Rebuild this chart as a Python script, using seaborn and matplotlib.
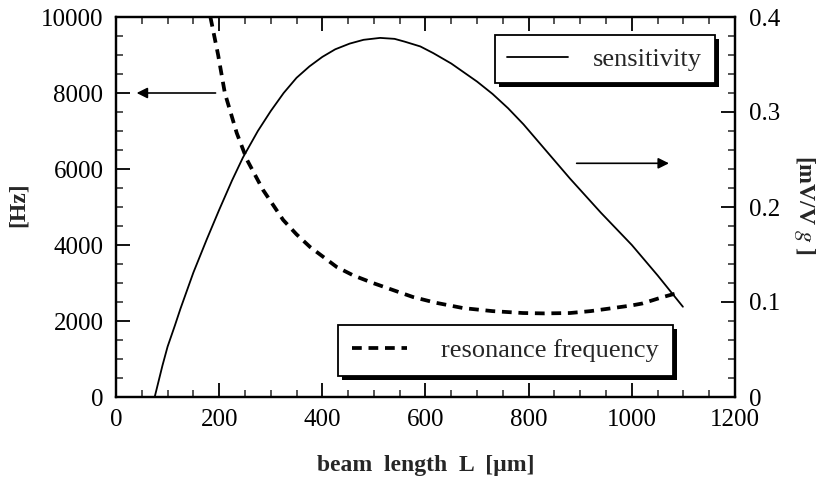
import matplotlib
matplotlib.use("Agg")
import matplotlib.pyplot as plt
import pandas as pd
import seaborn as sns
from matplotlib.ticker import MultipleLocator, FuncFormatter
from matplotlib.patches import Rectangle
from matplotlib.transforms import IdentityTransform

# Beam length [µm] vs. sensitivity [mV/V g]
length_sens = [75, 90, 100, 114, 125, 150, 176, 200, 225, 246, 275, 300, 325,
               350, 375, 400, 425, 453, 480, 512, 540, 560, 590, 615, 650, 700,
               730, 760, 790, 820, 850, 880, 940, 1000, 1050, 1099]
sensitivity = [0.0, 0.033, 0.053, 0.075, 0.093, 0.131, 0.166, 0.197, 0.228,
               0.252, 0.280, 0.301, 0.320, 0.336, 0.348, 0.358, 0.366, 0.372,
               0.376, 0.378, 0.377, 0.374, 0.369, 0.362, 0.351, 0.332, 0.319,
               0.304, 0.287, 0.268, 0.249, 0.230, 0.194, 0.160, 0.128, 0.095]

# Beam length [µm] vs. resonance frequency [Hz]
length_freq = [183, 198, 211, 234, 254, 285, 324, 350, 376, 428, 460, 498, 540,
               576, 620, 673, 730, 789, 830, 880, 920, 963, 1000, 1020, 1060,
               1095]
res_freq = [10000, 9000, 8000, 6950, 6240, 5450, 4660, 4280, 3950, 3420, 3200,
            3000, 2800, 2630, 2480, 2340, 2260, 2210, 2200, 2210, 2260, 2340,
            2410, 2460, 2630, 2760]

x_ticks = [0, 200, 400, 600, 800, 1000, 1200]
hz_ticks = [0, 2000, 4000, 6000, 8000, 10000]
sens_ticks = [0, 0.1, 0.2, 0.3, 0.4]

sns.set_theme(style="ticks")
plt.rcParams["font.family"] = ["Liberation Serif", "DejaVu Serif"]
plt.rcParams["mathtext.fontset"] = "stix"

W, H = 829, 483
fig = plt.figure(figsize=(W / 100, H / 100), dpi=100)
ax = fig.add_axes([116 / W, 1 - 397 / H, (735 - 116) / W, (397 - 17) / H])
ax2 = ax.twinx()

df_s = pd.DataFrame({"L": length_sens, "S": sensitivity})
df_f = pd.DataFrame({"L": length_freq, "F": res_freq})

sns.lineplot(data=df_f, x="L", y="F", ax=ax, color="black", linewidth=2.7,
             dashes=False, label="resonance frequency", legend=False)
ax.lines[0].set_dashes([2.6, 1.8])
sns.lineplot(data=df_s, x="L", y="S", ax=ax2, color="black", linewidth=1.3,
             label="sensitivity", legend=False)

ax.set_xlim(0, 1200)
ax.set_ylim(0, 10000)
ax2.set_ylim(0, 0.4)

ax.set_xticks(x_ticks)
ax.set_yticks(hz_ticks)
ax2.set_yticks(sens_ticks)
ax.xaxis.set_minor_locator(MultipleLocator(50))
ax.yaxis.set_minor_locator(MultipleLocator(500))
ax2.yaxis.set_minor_locator(MultipleLocator(0.02))
ax2.yaxis.set_major_formatter(FuncFormatter(lambda v, p: f"{v:g}"))

tick_font = 18
ax.tick_params(axis="both", which="major", direction="in", length=10, width=1.3,
               labelsize=tick_font, pad=9, top=True, right=False, colors="black")
ax.tick_params(axis="both", which="minor", direction="in", length=5, width=1.1,
               top=True, right=False)
ax2.tick_params(axis="y", which="major", direction="in", length=10, width=1.3,
                labelsize=tick_font, pad=10, colors="black")
ax2.tick_params(axis="y", which="minor", direction="in", length=5, width=1.1)

for a in (ax, ax2):
    for sp in a.spines.values():
        sp.set_visible(True)
        sp.set_linewidth(1.6)
        sp.set_color("black")

ax.set_xlabel("beam  length  L  [µm]", fontsize=17, fontweight="bold",
              va="center", ha="center")
ax.xaxis.set_label_coords(0.5, -0.179)
ax.set_ylabel("[Hz]", fontsize=17, fontweight="bold", va="center", ha="center")
ax.yaxis.set_label_coords(-0.158, 0.505)
ax2.set_ylabel("[mV/V $g$ ]", fontsize=17, fontweight="bold", rotation=270,
               va="center", ha="center")
ax2.yaxis.set_label_coords(1.113, 0.505)

# Arrows pointing each curve to its axis
ax.annotate("", xy=(40, 8000), xytext=(193, 8000),
            arrowprops=dict(arrowstyle="-|>", color="black", lw=1.2,
                            mutation_scale=16, shrinkA=0, shrinkB=0))
ax2.annotate("", xy=(1072, 0.246), xytext=(893, 0.246),
             arrowprops=dict(arrowstyle="-|>", color="black", lw=1.2,
                             mutation_scale=16, shrinkA=0, shrinkB=0))

leg_kw = dict(frameon=True, fancybox=False, fontsize=19, borderaxespad=0,
              bbox_transform=fig.transFigure, loc="upper left")
leg1 = ax2.legend(handles=ax2.lines[:1], labels=["sensitivity"],
                  bbox_to_anchor=(495 / W, 1 - 35 / H), handlelength=2.3,
                  handletextpad=0.95, borderpad=0.47, **leg_kw)
leg2 = ax.legend(handles=ax.lines[:1], labels=["resonance frequency"],
                 bbox_to_anchor=(338 / W, 1 - 325 / H), handlelength=2.1,
                 handletextpad=1.3, borderpad=0.52, **leg_kw)
for lg in (leg1, leg2):
    fr = lg.get_frame()
    fr.set_edgecolor("black")
    fr.set_linewidth(1.3)
    fr.set_facecolor("white")
    fr.set_alpha(1)
    lg.set_zorder(6)

# Solid drop shadows behind the legend boxes
fig.canvas.draw()
for a, lg in ((ax2, leg1), (ax, leg2)):
    bb = lg.get_window_extent()
    sh = Rectangle((bb.x0 + 4, bb.y0 - 4), bb.width, bb.height,
                   transform=IdentityTransform(), facecolor="black",
                   edgecolor="none", zorder=5.5)
    a.add_artist(sh)

fig.savefig("out.png", dpi=100)
